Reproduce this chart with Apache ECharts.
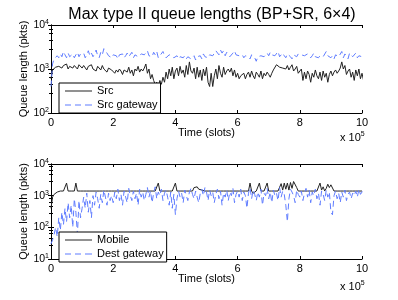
<!DOCTYPE html>
<html><head><meta charset="utf-8">
<script src="https://cdn.jsdelivr.net/npm/echarts@6/dist/echarts.min.js"></script>
<style>html,body{margin:0;padding:0;background:#fff}#c{width:398px;height:300px}</style>
</head><body><div id="c"></div>
<script>
const STEP = 5000; // slots between samples
const xTicks = ['0','2','4','6','8','10'];
const topYTicks = [100, 1000, 10000];
const botYTicks = [10, 100, 1000, 10000];

const src = [600,950,1050,1100,1000,1150,1250,1050,1200,1100,1300,1000,1150,1250,1050,1200,1100,1000,1250,1150,1050,
1200,1100,950,1150,1050,1250,1000,1100,900,1150,1050,950,1200,1000,1100,850,1050,1150,950,1000,
800,950,850,1000,900,750,950,1050,850,1100,800,950,700,1000,900,1150,850,1000,900,1050,
1300,800,1000,600,750,550,450,500,400,550,450,650,500,850,600,1000,700,1100,600,900,
1050,700,1150,800,950,650,1200,750,1450,900,800,1050,600,1100,650,950,550,1000,700,1100,
500,400,800,400,700,1000,600,1200,800,650,1100,750,900,1000,850,1050,700,950,650,800,
600,700,650,800,600,750,850,650,900,700,600,850,750,650,900,600,800,700,850,750,
650,800,950,900,1250,1150,1100,1200,1050,1150,1000,1200,950,1100,1250,900,1000,1150,800,750,
1000,550,850,600,900,750,500,800,650,950,700,600,850,550,900,650,800,500,750,900,
700,850,950,800,900,1050,1450,1000,1200,750,900,1000,650,850,550,950,700,1000,600,800,550];

const srcGateway = [400,1300,1700,1600,2000,1800,2200,1900,2500,2100,1800,2300,1900,2000,2200,1800,2100,2400,1900,2200,2000,
2300,1800,2100,2600,2000,2300,1900,2200,2700,2000,1800,2400,2100,2900,3100,2300,2000,2200,1800,2100,
1900,2000,1700,2100,1900,2200,1800,2000,2300,1900,2100,2400,1800,2100,2300,1900,2000,2200,2400,2100,
2300,2600,2000,2200,1900,2400,2100,2500,1800,2000,2200,2500,2000,1800,1700,2100,1900,2000,1800,1900,
2000,1700,1900,2100,1800,2000,1700,1900,2100,1700,1800,2000,1600,1900,2100,2000,1700,2200,1900,2000,
1800,2100,2300,2000,2200,2600,2400,2100,2700,2300,2600,2000,2400,2200,1900,2100,2300,2600,2100,2200,
2000,1900,2100,1800,2000,2200,1900,1700,2100,2000,1800,1500,1900,2100,2000,2200,1900,2100,2300,2000,
2400,2100,2300,2000,2200,2500,1900,2100,2300,2000,1800,2200,2000,1900,1700,2100,2300,1900,2200,2000,
2100,2300,2000,1900,2200,2100,1800,2000,2300,1900,2100,1800,2000,2200,1900,2100,2500,2000,2200,1800,
2000,1700,2100,2200,1900,2000,2500,1800,2200,2000,1700,2300,2100,1900,2000,2300,1800,2000,2200,1900,2000];

const mobile = [400,900,1100,1200,1300,1350,1400,1400,1400,1400,2500,1400,1400,1400,1400,1400,2500,1400,1400,1400,1400,
1400,1400,1400,1400,1400,1400,1400,1400,1400,1400,1400,1400,1400,1400,1400,1400,1400,1400,1400,1400,
1400,1400,1400,1400,1400,1400,1400,1400,1400,1400,1400,1400,1400,1400,1400,1400,1400,1400,1400,1400,
1400,1400,1400,1400,1400,1400,1400,1400,2500,1400,1400,1400,1400,1400,1400,1400,1400,1400,1400,2500,
1400,1400,1400,1400,1400,1400,1400,1400,1400,1400,1400,1800,1700,1900,1600,1800,1500,1700,1400,1400,
1400,1400,1400,1400,1400,1400,1400,1400,1400,1400,1400,1400,1400,1400,1400,1400,1400,1400,1400,1400,
1400,1400,1400,1400,1400,1400,1400,2500,1400,1200,1300,1400,1400,2500,1400,1400,1400,1400,2500,1400,
1400,1400,1400,1400,1400,1400,1400,2400,1500,2500,1600,2500,1500,2600,1700,2800,3000,1800,1400,1400,
1400,1400,1400,1400,1400,1400,1400,1400,1400,1400,1400,1400,2500,1500,1900,1400,1700,2300,1800,2200,
2300,1400,1400,1400,1400,1400,1400,1400,1400,1400,1400,1400,1400,1400,1400,1400,1400,1400,1400,1400];

const destGateway = [30,40,60,100,50,200,80,300,120,400,150,600,200,500,100,800,300,60,700,200,400,
900,400,1200,300,700,200,1000,500,1300,800,400,1100,600,1500,900,500,1200,700,1000,600,
1300,800,1600,700,1100,500,1400,900,600,1700,1000,700,1400,800,1200,500,1600,900,1300,700,
1100,1800,900,1400,600,1200,1900,800,1300,1000,1600,700,1200,1500,900,500,1300,400,1100,250,
800,1400,900,1200,600,1500,1000,700,1300,1700,1100,800,1400,900,600,1200,1600,1000,1800,1300,
700,1500,1000,1300,600,1100,1600,800,1400,500,1200,900,1500,700,1300,1000,1700,600,1100,1400,
900,1600,700,1300,1000,400,1200,1800,800,1500,1100,700,1300,900,1600,500,1200,1000,1700,800,
1300,600,1500,1000,1200,700,1800,900,1400,1100,500,150,800,1600,1300,1000,600,1500,1100,900,
1400,700,1200,1700,900,1500,600,1300,1000,1600,800,1200,500,1400,1100,700,1500,900,1300,300,
250,1000,1400,800,1200,600,1300,900,1500,700,1100,1300,800,1200,1000,1400,900,1600,1100,1300,1800];

const pairs = arr => arr.map((v, i) => [i * STEP, v]);
const FONT = 'Liberation Sans';
const BLACK = '#000';
const GRAY = '#222';
const BLUE = '#5f7cff';
const SOLID_ICON = 'path://M0,0h27v1h-27z';
const DASH_ICON = 'path://M0,0h6v1h-6zM10,0h6v1h-6zM20,0h7v1h-7z';

const supLabel = v => {
  const e = Math.round(Math.log10(v));
  return '{b|10}{s|' + e + '}';
};
const rich = {b:{fontSize:10.5, fontFamily:FONT, color:BLACK}, s:{fontSize:7, fontFamily:FONT, color:BLACK, verticalAlign:'top', padding:[0,0,6,0]}};
const rich11 = {b:{fontSize:11, fontFamily:FONT, color:BLACK}, s:{fontSize:7, fontFamily:FONT, color:BLACK, verticalAlign:'top', padding:[0,0,6,0]}};

function xAxes(gi) {
  return [{
    type:'value', gridIndex:gi, min:0, max:1e6, interval:2e5,
    name:'Time (slots)', nameLocation:'middle', nameGap:14, nameMoveOverlap:false,
    nameTextStyle:{fontFamily:FONT, fontSize:11, color:BLACK},
    axisLine:{show:true, lineStyle:{color:BLACK, width:1}},
    axisTick:{show:true, inside:true, length:3, lineStyle:{color:BLACK}},
    axisLabel:{fontFamily:FONT, fontSize:11, color:BLACK, margin:4, formatter:v => xTicks[Math.round(v/2e5)]},
    splitLine:{show:false}
  },{
    type:'value', gridIndex:gi, min:0, max:1e6, interval:2e5, position:'top',
    axisLine:{show:true, lineStyle:{color:BLACK, width:1}},
    axisTick:{show:true, inside:true, length:3, lineStyle:{color:BLACK}},
    axisLabel:{show:false}, splitLine:{show:false}
  }];
}
function yAxes(gi, ticks) {
  const min = ticks[0], max = ticks[ticks.length-1];
  const common = {
    type:'log', gridIndex:gi, min:min, max:max, logBase:10,
    axisLine:{show:true, lineStyle:{color:BLACK, width:1}},
    axisTick:{show:true, inside:true, length:3, lineStyle:{color:BLACK}},
    minorTick:{show:true, splitNumber:5, length:2, lineStyle:{color:BLACK}},
    splitLine:{show:false}
  };
  return [Object.assign({}, common, {
    name:'Queue length (pkts)', nameLocation:'middle', nameGap:22, nameMoveOverlap:false,
    nameTextStyle:{fontFamily:FONT, fontSize:11, color:BLACK},
    axisLabel:{formatter:supLabel, rich:rich, margin:2}
  }), Object.assign({}, common, {position:'right', axisLabel:{show:false}})];
}

const chart = echarts.init(document.getElementById('c'), null, {renderer:'canvas'});
const legendCommon = {
  orient:'vertical', backgroundColor:'#fff', borderColor:BLACK, borderWidth:1,
  padding:[2,3,2,6], itemGap:2, itemWidth:27, itemHeight:1,
  textStyle:{fontFamily:FONT, fontSize:11, color:BLACK, padding:[0,0,0,0], lineHeight:12}
};
chart.setOption({
  animation:false,
  title:{text:'Max type II queue lengths (BP+SR, 6\u00d74)', left:207, textAlign:'center', top:2,
    textStyle:{fontFamily:FONT, fontSize:16, fontWeight:'normal', color:BLACK}},
  grid:[{left:51, top:25, width:311, height:88}, {left:51, top:164, width:311, height:95}],
  xAxis:[...xAxes(0), ...xAxes(1)],
  yAxis:[...yAxes(0, topYTicks), ...yAxes(1, botYTicks)],
  legend:[
    Object.assign({}, legendCommon, {left:59, top:83,
      data:[{name:'Src', icon:SOLID_ICON}, {name:'Src gateway', icon:DASH_ICON}]}),
    Object.assign({}, legendCommon, {left:59, top:232,
      data:[{name:'Mobile', icon:SOLID_ICON}, {name:'Dest gateway', icon:DASH_ICON}]})
  ],
  graphic:[
    {type:'text', left:340, top:131, style:{rich:rich11, text:'x {b|10}{s|5}', fill:BLACK, font:'11px '+FONT}},
    {type:'text', left:340, top:280, style:{rich:rich11, text:'x {b|10}{s|5}', fill:BLACK, font:'11px '+FONT}}
  ],
  series:[
    {name:'Src', type:'line', xAxisIndex:0, yAxisIndex:0, data:pairs(src), symbol:'none',
      lineStyle:{color:GRAY, width:1}, itemStyle:{color:GRAY}},
    {name:'Src gateway', type:'line', xAxisIndex:0, yAxisIndex:0, data:pairs(srcGateway), symbol:'none',
      lineStyle:{color:BLUE, width:1, type:[6,4]}, itemStyle:{color:BLUE}},
    {name:'Mobile', type:'line', xAxisIndex:2, yAxisIndex:2, data:pairs(mobile), symbol:'none',
      lineStyle:{color:GRAY, width:1}, itemStyle:{color:GRAY}},
    {name:'Dest gateway', type:'line', xAxisIndex:2, yAxisIndex:2, data:pairs(destGateway), symbol:'none',
      lineStyle:{color:BLUE, width:1, type:[6,4]}, itemStyle:{color:BLUE}}
  ]
});
</script></body></html>
